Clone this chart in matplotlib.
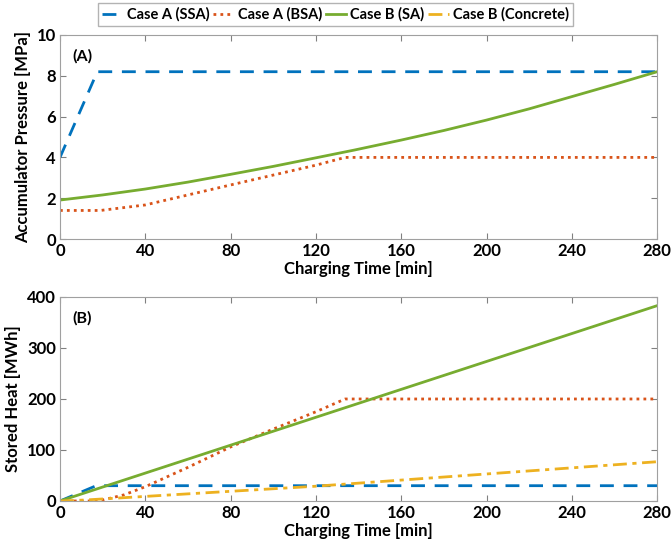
import matplotlib.pyplot as plt
import numpy as np

plt.rcParams['font.family'] = ['Lato', 'DejaVu Sans']
plt.rcParams['font.weight'] = 'bold'

# (A) accumulator pressure [MPa]
t_ssa_p = [0, 17.5, 280]
p_ssa = [4.0, 8.2, 8.2]
t_bsa_p = [0, 19, 40, 80, 120, 133.7, 280]
p_bsa = [1.4, 1.4, 1.67, 2.65, 3.62, 4.0, 4.0]
t_sa_p = [0, 20, 40, 60, 80, 100, 120, 138, 160, 180, 200, 220, 240, 260, 280]
p_sa = [1.91, 2.16, 2.45, 2.79, 3.17, 3.56, 3.98, 4.36, 4.85, 5.32, 5.83, 6.38, 6.98, 7.58, 8.2]

# (B) stored heat [MWh]
t_ssa_q = [0, 17, 280]
q_ssa = [0, 30, 30]
t_bsa_q = [0, 18, 30, 40, 60, 80, 100, 120, 133.7, 280]
q_bsa = [0, 0, 12, 28, 66, 106, 141, 175, 200, 200]
t_sa_q = [0, 280]
q_sa = [0, 383]
t_con_q = [0, 12, 40, 80, 120, 160, 200, 240, 280]
q_con = [0, 2, 9, 19, 29, 41, 53, 65, 77]

labels = ['Case A (SSA)', 'Case A (BSA)', 'Case B (SA)', 'Case B (Concrete)']
colors = ['#0072BD', '#D95319', '#77AC30', '#EDB120']

fig = plt.figure(figsize=(6.71, 5.52), dpi=100)
ax1 = fig.add_axes([0.0894, 0.567, 0.890, 0.3696])
ax2 = fig.add_axes([0.0894, 0.0924, 0.890, 0.3696])

lw = 2.0
dash = (0, (5, 3.5))
dot = (0, (1, 1.5))
dashdot = (0, (5, 2, 1.5, 2))
ax1.plot(t_ssa_p, p_ssa, color=colors[0], lw=lw, ls=dash, label=labels[0])
ax1.plot(t_bsa_p, p_bsa, color=colors[1], lw=lw, ls=dot, label=labels[1])
ax1.plot(t_sa_p, p_sa, color=colors[2], lw=lw, ls='-', label=labels[2])
ax1.plot([], [], color=colors[3], lw=lw, ls=dashdot, label=labels[3])

ax2.plot(t_ssa_q, q_ssa, color=colors[0], lw=lw, ls=dash)
ax2.plot(t_bsa_q, q_bsa, color=colors[1], lw=lw, ls=dot)
ax2.plot(t_sa_q, q_sa, color=colors[2], lw=lw, ls='-')
ax2.plot(t_con_q, q_con, color=colors[3], lw=lw, ls=dashdot)

for ax, ymax, ystep, ylab, tag in [(ax1, 10, 2, 'Accumulator Pressure [MPa]', '(A)'),
                                   (ax2, 400, 100, 'Stored Heat [MWh]', '(B)')]:
    ax.set_xlim(0, 280)
    ax.set_ylim(0, ymax)
    ax.set_xticks(np.arange(0, 281, 40))
    ax.set_yticks(np.arange(0, ymax + 1, ystep))
    ax.tick_params(direction='in', top=True, right=True, labelsize=12,
                   color='#808080', length=4, pad=3)
    for s in ax.spines.values():
        s.set_color('#a0a0a0')
    ax.set_xlabel('Charging Time [min]', fontsize=12, fontweight='bold', labelpad=1)
    ax.set_ylabel(ylab, fontsize=12, fontweight='bold', labelpad=4)
    ax.text(0.02, 0.93, tag, transform=ax.transAxes, fontsize=11.5,
            fontweight='bold', va='top')

fig.legend(loc='upper center', bbox_to_anchor=(0.5, 1.0), ncol=4, fontsize=10.5,
           frameon=True, fancybox=False, edgecolor='#a0a0a0', handlelength=1.4,
           handletextpad=0.3, columnspacing=0.25, borderpad=0.3, borderaxespad=0.2)

fig.savefig('out.png', dpi=100)
